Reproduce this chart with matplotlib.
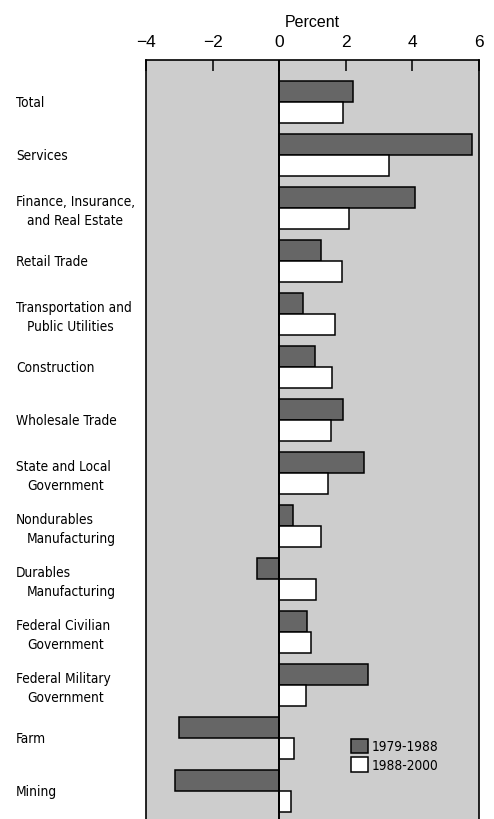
import numpy as np
from matplotlib import pyplot as plt

categories = ['Total', 'Services', 'Finance, Insurance,\nand Real Estate', 'Retail Trade',
              'Transportation and\nPublic Utilities', 'Construction', 'Wholesale Trade',
              'State and Local\nGovernment', 'Nondurables\nManufacturing', 'Durables\nManufacturing',
              'Federal Civilian\nGovernment', 'Federal Military\nGovernment', 'Farm', 'Mining']
growth_79_88 = [2.23, 5.8, 4.09, 1.27, 0.71, 1.08, 1.92, 2.56, 0.4, -0.67, 0.85, 2.68, -3.02, -3.14]
growth_88_00 = [1.91, 3.29, 2.11, 1.88, 1.67, 1.6, 1.57, 1.48, 1.27, 1.12, 0.97, 0.8, 0.45, 0.34]
series_names = ['1979-1988', '1988-2000']
xticks = [-4, -2, 0, 2, 4, 6]

plt.rcParams['font.family'] = ['Liberation Sans', 'DejaVu Sans']
narrow = dict(family='DejaVu Sans', stretch='condensed', size=9.8)

fig = plt.figure(figsize=(4.94, 8.2), dpi=100)
ax = fig.add_axes([0.296, 0.0, 0.673, 0.9256])
ax.set_facecolor('#cdcdcd')

y = np.arange(len(categories))
h = 0.4
ax.barh(y - h/2, growth_79_88, height=h, color='#666666', edgecolor='black', linewidth=1.1,
        label=series_names[0], zorder=3)
ax.barh(y + h/2, growth_88_00, height=h, color='white', edgecolor='black', linewidth=1.1,
        label=series_names[1], zorder=3)
ax.axvline(0, color='black', lw=1.4, zorder=4)

ax.set_xlim(-4, 6)
ax.set_ylim(13.53, -0.79)
ax.xaxis.tick_top()
ax.xaxis.set_label_position('top')
ax.set_xticks(xticks)
ax.tick_params(axis='x', direction='in', length=8, width=1.1, labelsize=12.5, pad=8)
ax.set_xlabel('Percent', fontsize=11.5, labelpad=6)
ax.set_yticks([])
for s in ['top', 'left', 'right']:
    ax.spines[s].set_linewidth(1.2)
ax.spines['bottom'].set_visible(False)

# category labels, second line indented
for i, name in enumerate(categories):
    lines = name.split('\n')
    yc = 102.7 + 53.0*i
    if len(lines) == 1:
        fig.text(16/494, 1 - yc/820, lines[0], va='center', ha='left', **narrow)
    else:
        yc += 3
        fig.text(16/494, 1 - (yc - 9.5)/820, lines[0], va='center', ha='left', **narrow)
        fig.text(27/494, 1 - (yc + 9.5)/820, lines[1], va='center', ha='left', **narrow)

ax.legend(loc='upper left', bbox_to_anchor=(0.595, 0.115), frameon=False,
          handlelength=1.25, handleheight=1.25, handletextpad=0.25, labelspacing=0.3,
          borderpad=0, prop=narrow)

fig.savefig('out.png', dpi=100)
